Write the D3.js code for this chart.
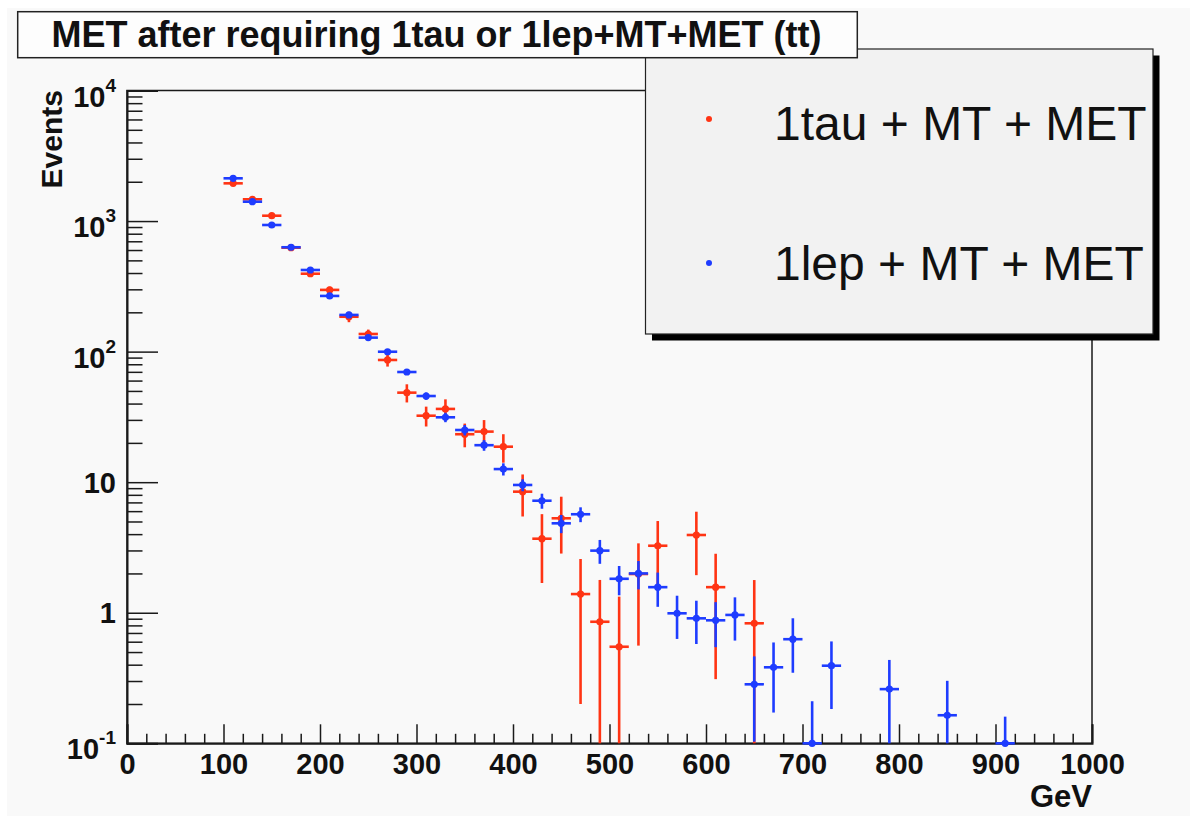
<!DOCTYPE html>
<html>
<head>
<meta charset="utf-8">
<script src="https://cdn.jsdelivr.net/npm/d3@7"></script>
<style>
  html, body { margin: 0; padding: 0; background: #ffffff; }
  svg { display: block; }
  text { font-family: "Liberation Sans", Arial, Helvetica, sans-serif; }
</style>
</head>
<body>
<svg id="chart" width="1194" height="820"></svg>
<script>
// ---------- data ----------
const titleText = "MET after requiring 1tau or 1lep+MT+MET (tt)";
const xLabel = "GeV";
const yLabel = "Events";
const legendLabels = ["1tau + MT + MET", "1lep + MT + MET"];
const seriesColors = ["#ff3414", "#1e3cff"];

const xTicks = [0, 100, 200, 300, 400, 500, 600, 700, 800, 900, 1000];
const yTicks = [0.1, 1, 10, 100, 1000, 10000];
const yTickBase = ["10", "1", "10", "10", "10", "10"];
const yTickExp = ["-1", "", "", "2", "3", "4"];

const binHalfWidth = 10;

// 1tau + MT + MET (red)
const tauX = [110,130,150,170,190,210,230,250,270,290,310,330,350,370,390,410,430,450,470,490,510,530,550,590,610,650];
const tauY = [1945,1468,1099,625,395,297,185,136.5,86.3,48.5,32.3,36.4,23.3,24.4,18.7,8.46,3.69,5.29,1.39,0.853,0.549,1.98,3.26,3.94,1.57,0.83];
const tauErr = [44,38,33,25,20,17,17,11,9.5,7.7,5.6,6.7,4.8,5.5,4.6,3.0,2.0,2.45,1.19,0.93,0.78,1.42,1.78,2.0,1.26,0.95];

// 1lep + MT + MET (blue)
const lepX = [110,130,150,170,190,210,230,250,270,290,310,330,350,370,390,410,430,450,470,490,510,530,550,570,590,610,630,650,670,690,710,730,790,850,910];
const lepY = [2125,1407,933,630,422,267,191,128,99.8,69.8,45.7,31.4,25.1,19.2,12.6,9.52,7.21,4.84,5.68,2.99,1.82,2.0,1.57,0.99,0.906,0.875,0.962,0.283,0.382,0.627,0.1,0.393,0.26,0.164,0.1];
const lepErr = [20,17,14,11,9,7.5,6,5,4.3,3.6,3.0,2.6,2.3,1.8,1.35,1.0,0.95,0.77,0.74,0.62,0.46,0.49,0.46,0.36,0.33,0.33,0.35,0.18,0.21,0.28,0.11,0.21,0.175,0.137,0.06];

// ---------- layout ----------
const svg = d3.select("#chart");
const plot = { left: 127, right: 1092, top: 90.5, bottom: 743.3 };

const x = d3.scaleLinear().domain([0, 1000]).range([plot.left, plot.right]);
const y = d3.scaleLog().domain([0.1, 10000]).range([plot.bottom, plot.top]);

// canvas
svg.append("rect").attr("x", 7).attr("y", 8).attr("width", 1183).attr("height", 808)
  .attr("fill", "#f9f9f9");

// frame (top/right)
svg.append("rect")
  .attr("x", plot.left).attr("y", plot.top)
  .attr("width", plot.right - plot.left).attr("height", plot.bottom - plot.top)
  .attr("fill", "none").attr("stroke", "#1a1a1a").attr("stroke-width", 1.5);

// ---------- x axis ----------
const xMinor = d3.range(0, 1001, 20).filter(v => v % 100 !== 0);
const xMinorAxis = d3.axisBottom(x).tickValues(xMinor).tickSize(-9.5).tickFormat("");
const gxm = svg.append("g").attr("transform", `translate(0,${plot.bottom})`).call(xMinorAxis);
gxm.select(".domain").remove();

const xAxis = d3.axisBottom(x).tickValues(xTicks).tickSize(-19).tickPadding(10).tickFormat(d3.format("d"));
const gx = svg.append("g").attr("transform", `translate(0,${plot.bottom})`).call(xAxis);
gx.selectAll("text").attr("font-size", 29).attr("font-weight", "bold").attr("fill", "#111")
  .attr("font-family", "'Liberation Sans', Arial, sans-serif");
[gx, gxm].forEach(g => g.selectAll(".tick line").attr("stroke", "#1a1a1a").attr("stroke-width", 1.5));
gx.select(".domain").attr("stroke", "#1a1a1a").attr("stroke-width", 2);

// ---------- y axis ----------
const yMinor = [];
[0.1, 1, 10, 100, 1000].forEach(dec => { for (let k = 2; k <= 9; k++) yMinor.push(dec * k); });
const yMinorAxis = d3.axisLeft(y).tickValues(yMinor).tickSize(-15.5).tickFormat("");
const gym = svg.append("g").attr("transform", `translate(${plot.left},0)`).call(yMinorAxis);
gym.select(".domain").remove();

const yAxis = d3.axisLeft(y).tickValues(yTicks).tickSize(-31).tickFormat("");
const gy = svg.append("g").attr("transform", `translate(${plot.left},0)`).call(yAxis);
[gy, gym].forEach(g => g.selectAll(".tick line").attr("stroke", "#1a1a1a").attr("stroke-width", 1.5));
gy.select(".domain").attr("stroke", "#1a1a1a").attr("stroke-width", 2);

gy.selectAll(".tick").each(function(d, i) {
  const g = d3.select(this);
  g.select("text").remove();
  const hasExp = yTickExp[i] !== "";
  const t = g.append("text")
    .attr("x", -11)
    .attr("y", hasExp ? 15.5 : 10)
    .attr("text-anchor", "end")
    .attr("font-size", 29).attr("font-weight", "bold").attr("fill", "#111")
    .attr("font-family", "'Liberation Sans', Arial, sans-serif");
  t.append("tspan").text(yTickBase[i]);
  if (hasExp) {
    t.append("tspan").attr("dy", -15).attr("font-size", 19).text(yTickExp[i]);
  }
});

// axis titles
svg.append("text")
  .attr("transform", `translate(62,${plot.top - 0.5}) rotate(-90)`)
  .attr("text-anchor", "end").attr("font-size", 30).attr("font-weight", "bold").attr("fill", "#111")
  .text(yLabel);
svg.append("text")
  .attr("x", plot.right).attr("y", 807)
  .attr("text-anchor", "end").attr("font-size", 31).attr("font-weight", "bold").attr("fill", "#111")
  .text(xLabel);

// ---------- data ----------
function drawSeries(xs, ys, es, color) {
  const data = xs.map((c, i) => ({ c, v: ys[i], e: es[i] }));
  const g = svg.append("g");
  const lo = d => Math.max(d.v - d.e, y.domain()[0]);
  g.selectAll("line.v").data(data).join("line").attr("class", "v")
    .attr("x1", d => x(d.c)).attr("x2", d => x(d.c))
    .attr("y1", d => y(d.v + d.e)).attr("y2", d => y(lo(d)))
    .attr("stroke", color).attr("stroke-width", 2.6);
  g.selectAll("line.h").data(data).join("line").attr("class", "h")
    .attr("x1", d => x(d.c - binHalfWidth)).attr("x2", d => x(d.c + binHalfWidth))
    .attr("y1", d => y(d.v)).attr("y2", d => y(d.v))
    .attr("stroke", color).attr("stroke-width", 2.6);
  g.selectAll("circle").data(data).join("circle")
    .attr("cx", d => x(d.c)).attr("cy", d => y(d.v)).attr("r", 3.6)
    .attr("fill", color);
}
drawSeries(tauX, tauY, tauErr, seriesColors[0]);
drawSeries(lepX, lepY, lepErr, seriesColors[1]);

// ---------- legend ----------
const leg = { x: 645.5, y: 49, w: 507.5, h: 285, shadow: 6.5 };
svg.append("rect").attr("x", leg.x + leg.shadow).attr("y", leg.y + leg.shadow)
  .attr("width", leg.w).attr("height", leg.h).attr("fill", "#000");
svg.append("rect").attr("x", leg.x).attr("y", leg.y)
  .attr("width", leg.w).attr("height", leg.h)
  .attr("fill", "#f2f2f2").attr("stroke", "#222").attr("stroke-width", 1.2);
const legRows = [{ my: 119, ty: 140 }, { my: 263, ty: 280 }];
legendLabels.forEach((lab, i) => {
  svg.append("circle").attr("cx", 709).attr("cy", legRows[i].my).attr("r", 3)
    .attr("fill", seriesColors[i]);
  svg.append("text").attr("x", 774).attr("y", legRows[i].ty)
    .attr("font-size", 48).attr("fill", "#111").text(lab);
});

// ---------- title ----------
svg.append("rect").attr("x", 17.7).attr("y", 11.7).attr("width", 839.6).attr("height", 46)
  .attr("fill", "#fdfdfd").attr("stroke", "#222").attr("stroke-width", 1.5);
svg.append("text").attr("x", 436.5).attr("y", 46.8)
  .attr("text-anchor", "middle").attr("font-size", 36).attr("font-weight", "bold").attr("fill", "#111")
  .text(titleText);
</script>
</body>
</html>
